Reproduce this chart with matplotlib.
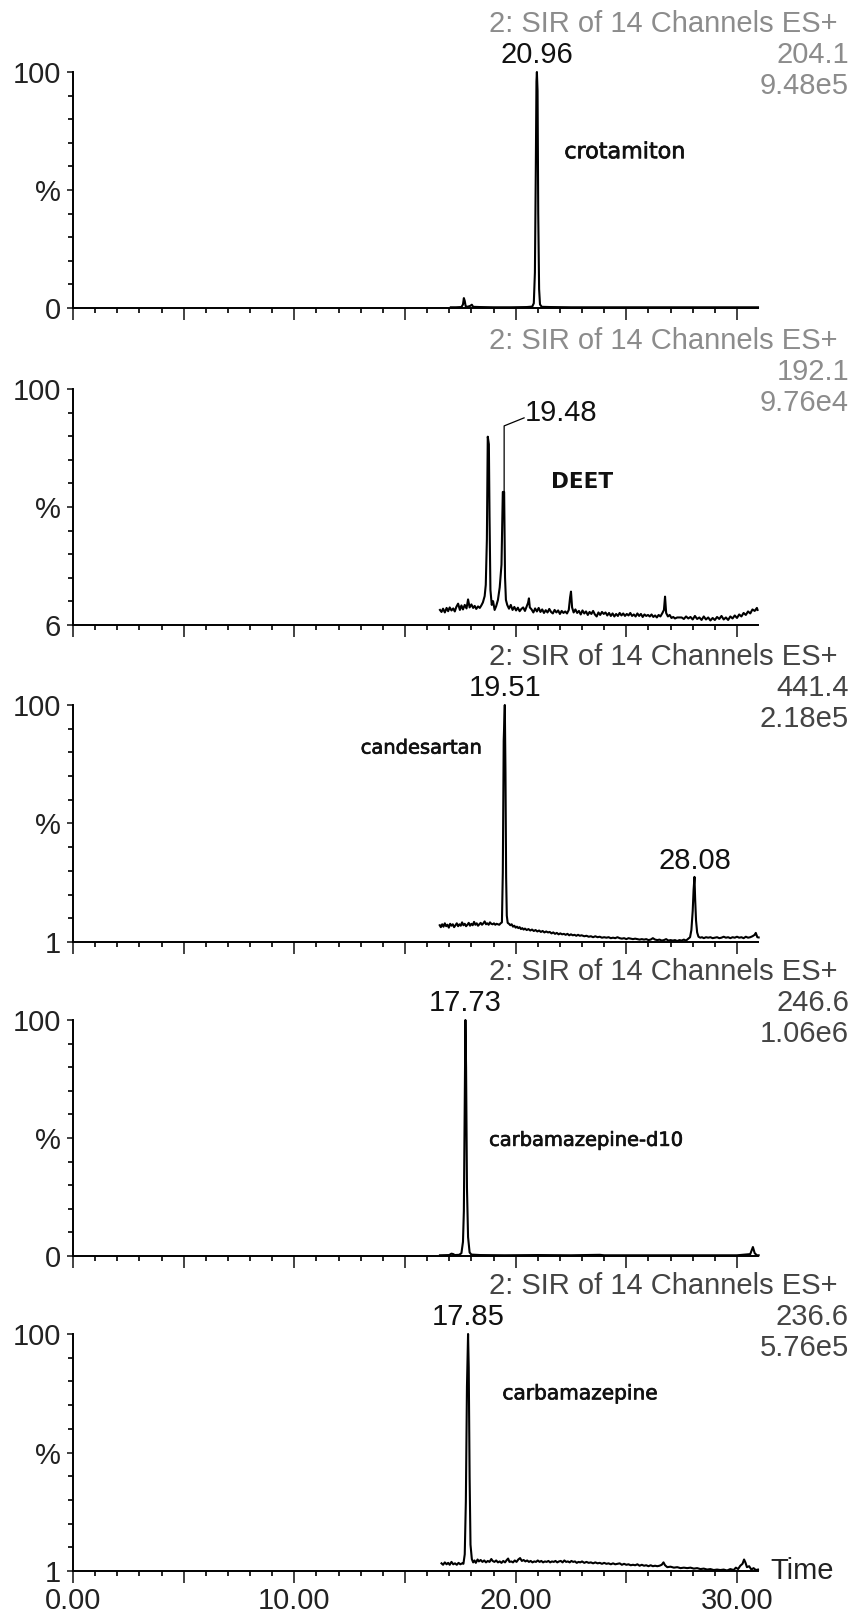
import numpy as np
import matplotlib.pyplot as plt
import matplotlib.patheffects as pe
from matplotlib.ticker import FixedLocator, FixedFormatter

plt.rcParams["font.family"] = ["Liberation Sans", "DejaVu Sans"]

# %% data (time in min, intensity in %)
crot_t = [17.07, 17.30, 17.55, 17.62, 17.66, 17.70, 17.74, 17.82, 17.95, 18.02, 18.08, 18.40,
          19.00, 19.80, 20.50, 20.75, 20.82, 20.87, 20.91, 20.94, 20.96, 20.99, 21.02, 21.06,
          21.10, 21.18, 21.60, 22.50, 24.00, 26.00, 28.00, 30.00, 30.95]
crot_v = [0.3, 0.3, 0.4, 1.5, 4.2, 3.0, 0.8, 0.5, 0.9, 1.4, 0.5, 0.4,
          0.3, 0.3, 0.4, 0.6, 2.0, 15, 58, 96, 100, 92, 40, 8,
          1.5, 0.5, 0.4, 0.3, 0.3, 0.3, 0.3, 0.3, 0.3]

deet_t = [16.58, 16.65, 16.72, 16.80, 16.88, 16.95, 17.02, 17.10, 17.18, 17.25, 17.32, 17.40,
          17.48, 17.55, 17.62, 17.70, 17.78, 17.85, 17.92, 18.00, 18.08, 18.15, 18.22, 18.30,
          18.38, 18.45, 18.52, 18.60, 18.65, 18.70, 18.74, 18.79, 18.82, 18.86, 18.92, 18.98,
          19.05, 19.12, 19.20, 19.28, 19.36, 19.42, 19.48, 19.52, 19.56, 19.62, 19.70, 19.78,
          19.86, 19.94, 20.02, 20.10, 20.18, 20.26, 20.34, 20.42, 20.50, 20.56, 20.60, 20.64,
          20.72, 20.80, 20.88, 20.96, 21.04, 21.12, 21.20, 21.28, 21.36, 21.44, 21.52, 21.60,
          21.68, 21.76, 21.84, 21.92, 22.00, 22.08, 22.16, 22.24, 22.32, 22.40, 22.46, 22.50,
          22.55, 22.62, 22.70, 22.78, 22.86, 22.94, 23.02, 23.10, 23.18, 23.26, 23.34, 23.42,
          23.50, 23.58, 23.66, 23.74, 23.82, 23.90, 23.98, 24.06, 24.14, 24.22, 24.30, 24.38,
          24.46, 24.54, 24.62, 24.70, 24.78, 24.86, 24.94, 25.02, 25.10, 25.18, 25.26, 25.34,
          25.42, 25.50, 25.58, 25.66, 25.74, 25.82, 25.90, 25.98, 26.06, 26.14, 26.22, 26.30,
          26.38, 26.46, 26.54, 26.62, 26.70, 26.75, 26.80, 26.88, 26.96, 27.04, 27.12, 27.20,
          27.30, 27.40, 27.50, 27.60, 27.70, 27.80, 27.90, 28.00, 28.10, 28.20, 28.30, 28.40,
          28.50, 28.60, 28.70, 28.80, 28.90, 29.00, 29.10, 29.20, 29.30, 29.40, 29.50, 29.60,
          29.70, 29.80, 29.90, 30.00, 30.10, 30.20, 30.30, 30.40, 30.50, 30.60, 30.70, 30.80,
          30.90, 30.93]
deet_v = [12.0, 11.2, 12.5, 11.0, 12.8, 11.5, 13.0, 11.8, 12.6, 11.4, 13.2, 14.5,
          12.0, 13.8, 12.2, 14.0, 12.6, 16.2, 13.0, 14.2, 12.8, 13.6, 12.4, 13.4,
          12.8, 13.8, 15.0, 17.5, 22.0, 40.0, 81.0, 78.0, 49.0, 20.0, 14.0, 15.5,
          12.0, 13.5, 16.0, 21.0, 30.0, 59.0, 59.0, 25.0, 16.0, 14.0, 12.5, 14.0,
          12.0, 13.2, 11.8, 12.9, 11.5, 12.4, 13.0, 11.6, 13.4, 14.8, 16.6, 13.0,
          12.2, 11.0, 12.6, 11.4, 12.8, 11.2, 12.2, 10.8, 11.9, 11.0, 12.4, 11.2,
          10.6, 12.0, 11.0, 11.8, 10.4, 11.6, 10.8, 11.4, 10.6, 12.0, 17.0, 19.3,
          13.0, 11.0, 12.2, 10.8, 11.6, 10.2, 11.8, 10.6, 11.4, 10.0, 11.2, 10.4,
          11.6, 10.2, 9.4, 11.0, 10.0, 11.2, 10.4, 11.0, 9.8, 10.8, 9.6, 10.6,
          9.4, 10.4, 9.6, 10.8, 9.8, 10.6, 9.6, 10.4, 9.8, 10.8, 9.6, 10.2,
          9.4, 10.6, 9.6, 10.4, 9.2, 10.2, 9.6, 10.0, 9.4, 10.2, 9.2, 9.8,
          9.0, 10.0, 9.4, 10.6, 12.0, 17.3, 10.8, 9.4, 10.0, 8.8, 9.2, 8.6,
          9.0, 9.0, 9.0, 8.4, 9.4, 8.6, 9.2, 8.2, 9.6, 8.4, 9.0, 8.0,
          9.4, 8.2, 9.0, 7.8, 8.8, 8.0, 9.2, 8.4, 9.6, 8.2, 9.0, 8.0,
          9.4, 8.6, 9.8, 8.8, 10.2, 9.4, 10.8, 10.0, 11.4, 10.6, 12.2, 11.6,
          12.8, 12.0]

cand_t = [16.57, 16.62, 16.68, 16.74, 16.80, 16.86, 16.92, 16.98, 17.04, 17.10, 17.16, 17.22,
          17.28, 17.34, 17.40, 17.46, 17.52, 17.58, 17.64, 17.70, 17.76, 17.82, 17.88, 17.94,
          18.00, 18.06, 18.12, 18.18, 18.24, 18.30, 18.36, 18.42, 18.48, 18.54, 18.60, 18.66,
          18.72, 18.78, 18.84, 18.90, 18.96, 19.02, 19.08, 19.14, 19.20, 19.26, 19.32, 19.38,
          19.42, 19.46, 19.51, 19.54, 19.57, 19.60, 19.64, 19.70, 19.76, 19.82, 19.88, 19.94,
          20.00, 20.06, 20.12, 20.18, 20.24, 20.30, 20.36, 20.42, 20.50, 20.58, 20.66, 20.74,
          20.82, 20.90, 20.98, 21.06, 21.14, 21.22, 21.30, 21.38, 21.46, 21.54, 21.62, 21.70,
          21.78, 21.86, 21.94, 22.02, 22.10, 22.18, 22.26, 22.34, 22.42, 22.50, 22.58, 22.66,
          22.74, 22.82, 22.90, 22.98, 23.10, 23.20, 23.30, 23.40, 23.50, 23.60, 23.70, 23.80,
          23.90, 24.00, 24.10, 24.20, 24.30, 24.40, 24.50, 24.60, 24.70, 24.80, 24.90, 25.00,
          25.10, 25.20, 25.30, 25.40, 25.50, 25.60, 25.70, 25.80, 25.90, 26.00, 26.10, 26.20,
          26.30, 26.40, 26.50, 26.60, 26.70, 26.80, 26.90, 27.00, 27.10, 27.20, 27.30, 27.40,
          27.50, 27.60, 27.70, 27.80, 27.88, 27.94, 28.00, 28.04, 28.08, 28.11, 28.15, 28.20,
          28.26, 28.34, 28.42, 28.50, 28.60, 28.70, 28.80, 28.90, 29.00, 29.10, 29.20, 29.30,
          29.40, 29.50, 29.60, 29.70, 29.80, 29.90, 30.00, 30.10, 30.20, 30.30, 30.40, 30.50,
          30.60, 30.70, 30.80, 30.85, 30.92, 30.98]
cand_v = [8.0, 7.2, 8.4, 7.4, 8.8, 7.6, 8.2, 7.0, 8.6, 7.8, 8.4, 7.2,
          8.0, 8.8, 7.6, 8.4, 7.8, 9.2, 8.0, 8.6, 7.6, 8.2, 9.0, 7.8,
          8.6, 8.0, 9.4, 8.2, 8.8, 7.8, 8.4, 9.0, 8.2, 8.8, 9.6, 8.4,
          8.8, 8.2, 9.2, 8.6, 8.4, 8.8, 8.2, 8.6, 8.4, 8.2, 8.8, 9.2,
          30.0, 85.0, 100.0, 72.0, 28.0, 12.0, 9.0, 8.6, 8.0, 8.4, 7.4, 7.8,
          7.0, 7.4, 6.8, 7.2, 6.4, 6.8, 6.2, 6.6, 6.0, 6.4, 5.8, 6.2,
          5.6, 6.0, 5.4, 5.8, 5.2, 5.6, 5.0, 5.4, 5.0, 5.2, 4.6, 5.0,
          4.4, 4.8, 4.2, 4.6, 4.2, 4.4, 4.0, 4.4, 3.8, 4.2, 3.8, 4.0,
          3.6, 4.0, 3.6, 3.8, 3.4, 3.6, 3.2, 3.4, 3.0, 3.4, 3.0, 3.2,
          2.8, 3.0, 2.8, 3.0, 2.6, 2.8, 2.6, 3.0, 2.6, 2.4, 2.6, 2.2,
          2.6, 2.4, 2.2, 2.4, 2.2, 2.0, 2.2, 2.0, 2.2, 1.8, 2.0, 2.6,
          2.0, 1.8, 2.0, 1.6, 1.8, 2.2, 1.6, 1.8, 1.6, 1.8, 1.4, 1.8,
          1.6, 2.0, 1.6, 2.4, 3.0, 6.0, 14.0, 22.8, 28.2, 19.0, 10.0, 5.0,
          3.2, 2.8, 3.0, 2.6, 3.0, 2.8, 3.0, 2.6, 2.8, 3.0, 2.6, 2.8,
          3.2, 2.8, 3.0, 2.6, 3.0, 2.8, 3.2, 2.8, 3.0, 2.6, 3.2, 2.8,
          3.0, 3.4, 4.0, 4.8, 3.0, 2.9]

cbzd_t = [16.58, 17.00, 17.10, 17.18, 17.25, 17.45, 17.55, 17.62, 17.66, 17.70, 17.73, 17.76,
          17.80, 17.85, 17.92, 18.00, 18.40, 19.50, 21.00, 22.50, 23.80, 24.00, 26.00, 28.00,
          30.00, 30.60, 30.72, 30.80, 30.90, 30.98]
cbzd_v = [0.3, 0.4, 1.0, 0.8, 0.4, 0.5, 1.2, 6.0, 19.0, 65.0, 100.0, 80.0,
          29.0, 8.0, 1.5, 0.6, 0.4, 0.3, 0.4, 0.3, 0.5, 0.3, 0.3, 0.3,
          0.3, 0.8, 3.8, 1.2, 0.3, 0.3]

cbz_t = [16.65, 16.72, 16.80, 16.88, 16.95, 17.02, 17.10, 17.18, 17.26, 17.34, 17.42, 17.50,
         17.58, 17.64, 17.70, 17.75, 17.80, 17.85, 17.88, 17.92, 17.96, 18.02, 18.08, 18.14,
         18.20, 18.28, 18.34, 18.42, 18.50, 18.58, 18.66, 18.74, 18.82, 18.90, 18.96, 19.04,
         19.12, 19.20, 19.28, 19.36, 19.44, 19.52, 19.60, 19.66, 19.72, 19.80, 19.88, 19.96,
         20.04, 20.12, 20.20, 20.28, 20.36, 20.44, 20.52, 20.60, 20.68, 20.76, 20.84, 20.92,
         21.00, 21.08, 21.16, 21.24, 21.32, 21.40, 21.48, 21.56, 21.64, 21.72, 21.80, 21.88,
         21.96, 22.04, 22.12, 22.20, 22.28, 22.36, 22.44, 22.52, 22.60, 22.68, 22.76, 22.84,
         22.92, 23.00, 23.10, 23.20, 23.30, 23.40, 23.50, 23.60, 23.70, 23.80, 23.90, 24.00,
         24.10, 24.20, 24.30, 24.40, 24.50, 24.60, 24.70, 24.80, 24.90, 25.00, 25.10, 25.20,
         25.30, 25.40, 25.50, 25.60, 25.70, 25.80, 25.90, 26.00, 26.10, 26.20, 26.30, 26.40,
         26.50, 26.60, 26.68, 26.75, 26.85, 27.00, 27.15, 27.30, 27.45, 27.60, 27.75, 27.90,
         28.05, 28.20, 28.35, 28.50, 28.65, 28.80, 28.95, 29.10, 29.25, 29.40, 29.55, 29.70,
         29.85, 29.95, 30.05, 30.15, 30.25, 30.32, 30.38, 30.45, 30.55, 30.65, 30.75, 30.85,
         30.95]
cbz_v = [4.2, 3.6, 4.6, 3.8, 4.4, 3.6, 4.8, 3.8, 4.2, 3.6, 4.4, 3.8,
         4.2, 4.0, 8.0, 30.0, 78.0, 100.0, 86.0, 40.0, 12.0, 6.0, 4.6, 5.4,
         4.4, 5.8, 5.0, 5.6, 4.8, 5.4, 4.6, 5.2, 4.8, 6.0, 5.2, 4.8,
         5.4, 4.6, 5.0, 4.4, 5.2, 4.6, 5.6, 6.2, 4.8, 5.0, 4.6, 5.4,
         4.8, 5.8, 6.4, 5.2, 5.6, 5.0, 5.4, 4.8, 5.2, 4.6, 5.0, 4.8,
         5.4, 4.8, 5.2, 4.6, 5.0, 4.8, 5.2, 4.6, 5.0, 4.8, 5.2, 4.6,
         5.0, 5.2, 4.6, 5.4, 4.8, 5.0, 4.6, 5.2, 4.8, 5.0, 4.4, 4.8,
         4.6, 5.0, 4.4, 4.8, 4.4, 4.6, 4.2, 4.6, 4.2, 4.4, 4.0, 4.4,
         4.0, 4.2, 3.8, 4.2, 3.8, 4.0, 4.2, 3.6, 4.0, 3.6, 3.8, 3.4,
         3.6, 3.4, 3.8, 3.2, 3.6, 3.2, 3.4, 3.0, 3.4, 3.0, 3.2, 3.0,
         3.2, 3.6, 4.6, 3.4, 2.6, 2.8, 2.4, 2.6, 2.2, 2.4, 2.2, 2.4,
         2.0, 2.2, 1.8, 2.0, 1.6, 1.8, 1.4, 1.6, 1.4, 1.6, 1.2, 1.8,
         1.4, 2.4, 1.8, 3.2, 4.0, 5.8, 4.6, 2.6, 3.0, 1.6, 2.2, 1.4,
         1.6]

compounds = ["crotamiton", "DEET", "candesartan", "carbamazepine-d10", "carbamazepine"]
masses = ["204.1", "192.1", "441.4", "246.6", "236.6"]
intensities = ["9.48e5", "9.76e4", "2.18e5", "1.06e6", "5.76e5"]
y_mins = [0, 6, 1, 0, 1]
peak_rt = [20.96, 19.48, 19.51, 17.73, 17.85]
x_labels = ["0.00", "10.00", "20.00", "30.00"]

traces_t = [crot_t, deet_t, cand_t, cbzd_t, cbz_t]
traces_v = [crot_v, deet_v, cand_v, cbzd_v, cbz_v]

# %% layout (pixels of a 853 x 1616 canvas)
W, H = 853, 1616
left_px, right_px = 73, 758
tops = [72, 389, 705, 1020, 1334]
bottoms = [308, 625, 942, 1256, 1571]
head_col = ["#8c8c8c", "#8c8c8c", "#444444", "#444444", "#444444"]
name_xy = [(22.2, 66), (21.6, 63), (13.0, 82), (18.8, 49), (19.4, 75)]
name_size = [16, 15.5, 14, 14, 14.5]
t_max = 30.95

fig = plt.figure(figsize=(W / 100, H / 100), dpi=100)

for i in range(5):
    ax = fig.add_axes([left_px / W, 1 - bottoms[i] / H,
                       (right_px - left_px) / W, (bottoms[i] - tops[i]) / H])
    ymin = y_mins[i]
    ax.plot(traces_t[i], traces_v[i], color="black", lw=1.5, clip_on=False)
    ax.set_xlim(0, t_max)
    ax.set_ylim(ymin, 100)
    for s in ["top", "right"]:
        ax.spines[s].set_visible(False)
    for s in ["left", "bottom"]:
        ax.spines[s].set_linewidth(1.4)

    # x ticks: long every 5 min, short every 1 min, labels on the last panel only
    ax.xaxis.set_major_locator(FixedLocator(np.arange(0, 31, 5)))
    ax.xaxis.set_minor_locator(FixedLocator(np.arange(0, 31, 1)))
    if i == 4:
        ax.xaxis.set_major_formatter(FixedFormatter(
            [x_labels[0], "", x_labels[1], "", x_labels[2], "", x_labels[3]]))
    else:
        ax.xaxis.set_major_formatter(FixedFormatter([""] * 7))
    ax.tick_params(axis="x", which="major", length=8.5, width=1.2, direction="out",
                   labelsize=21, pad=3, colors="#222222")
    ax.tick_params(axis="x", which="minor", length=3.8, width=1.2, direction="out")

    # y ticks: 10 divisions, labels at bottom / middle / top
    ax.yaxis.set_major_locator(FixedLocator([ymin, ymin + (100 - ymin) / 2, 100]))
    ax.yaxis.set_major_formatter(FixedFormatter([str(ymin), "%", "100"]))
    ax.yaxis.set_minor_locator(FixedLocator(np.linspace(ymin, 100, 11)))
    ax.tick_params(axis="y", which="major", length=4.5, width=1.2, direction="out",
                   labelsize=21, pad=4, colors="#222222")
    ax.tick_params(axis="y", which="minor", length=3.6, width=1.2, direction="out")

    # header block, right aligned
    head = ["2: SIR of 14 Channels ES+", masses[i], intensities[i]]
    for k, txt in enumerate(head):
        y_px = tops[i] - 48 + 31 * k
        x_px = 838 if k == 0 else 849
        fig.text(x_px / W, 1 - y_px / H, txt, ha="right", va="center",
                 fontsize=21, color=head_col[i])

    # compound name (DEET is plain bold, the rest slightly thickened)
    nx, ny = name_xy[i]
    effects = [] if i == 1 else [pe.withStroke(linewidth=0.5, foreground="#111111")]
    ax.text(nx, ny, compounds[i], fontsize=name_size[i], va="center", ha="left",
            family="DejaVu Sans", fontweight="bold" if i == 1 else "normal",
            color="#111111", path_effects=effects)

    # peak labels
    if i == 1:
        ax.plot([peak_rt[i], peak_rt[i], 20.38], [59, 85.3, 88.5], color="black",
                lw=0.9, clip_on=False)
        ax.text(20.42, 90.5, f"{peak_rt[i]:.2f}", fontsize=21, ha="left", va="center",
                color="#111111")
    else:
        ax.annotate(f"{peak_rt[i]:.2f}", (peak_rt[i], 100), xytext=(0, 2),
                    textcoords="offset points", ha="center", va="bottom",
                    fontsize=21, color="#111111", annotation_clip=False)
    if i == 2:
        ax.annotate("28.08", (28.08, 28.2), xytext=(0, 1), textcoords="offset points",
                    ha="center", va="bottom", fontsize=21, color="#111111")

    if i == 4:
        ax.text(770 / W, 1 - 1571 / H, "Time", transform=fig.transFigure,
                fontsize=21, ha="left", va="center", color="#222222")

fig.savefig("out.png", dpi=100)
